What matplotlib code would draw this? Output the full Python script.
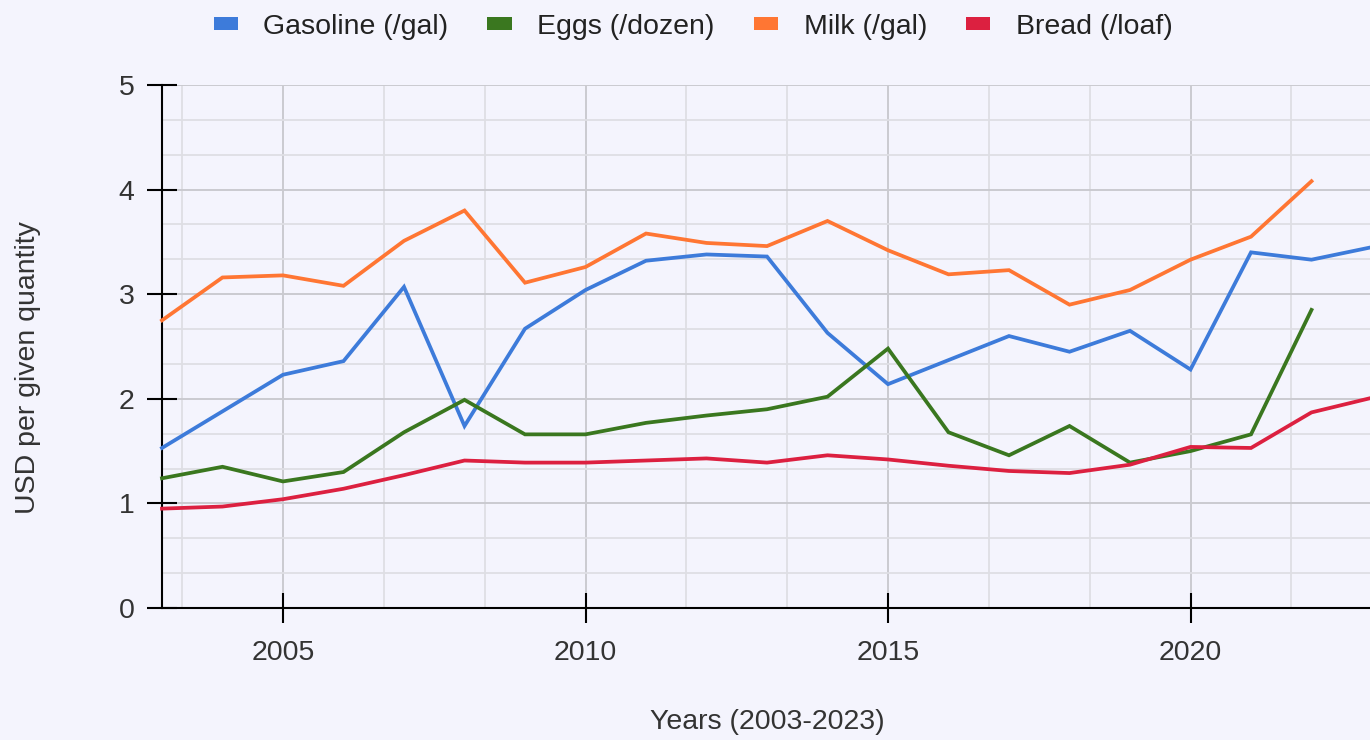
import matplotlib.pyplot as plt
from matplotlib.ticker import MultipleLocator, FixedLocator
from matplotlib.patches import Patch

# Data
years = list(range(2003, 2024))
gasoline = [1.53, 1.88, 2.23, 2.36, 3.07, 1.74, 2.67, 3.04, 3.32, 3.38, 3.36,
            2.63, 2.14, 2.37, 2.60, 2.45, 2.65, 2.28, 3.40, 3.33, 3.45]
eggs = [1.24, 1.35, 1.21, 1.30, 1.68, 1.99, 1.66, 1.66, 1.77, 1.84, 1.90,
        2.02, 2.48, 1.68, 1.46, 1.74, 1.39, 1.50, 1.66, 2.85]
milk = [2.75, 3.16, 3.18, 3.08, 3.51, 3.80, 3.11, 3.26, 3.58, 3.49, 3.46,
        3.70, 3.42, 3.19, 3.23, 2.90, 3.04, 3.33, 3.55, 4.08]
bread = [0.95, 0.97, 1.04, 1.14, 1.27, 1.41, 1.39, 1.39, 1.41, 1.43, 1.39,
         1.46, 1.42, 1.36, 1.31, 1.29, 1.37, 1.54, 1.53, 1.87, 2.01]

series_names = ["Gasoline (/gal)", "Eggs (/dozen)", "Milk (/gal)", "Bread (/loaf)"]
series_values = [gasoline, eggs, milk, bread]
series_colors = ["#3D7BDA", "#3A771F", "#FF7633", "#DC2040"]

x_major = [2005, 2010, 2015, 2020]
y_major = [0, 1, 2, 3, 4, 5]

BG = "#F4F4FD"
TEXT = "#333333"

plt.rcParams['font.family'] = ['Liberation Sans', 'DejaVu Sans']

fig = plt.figure(figsize=(13.7, 7.4), dpi=100, facecolor=BG)
ax = fig.add_axes([162 / 1370, 1 - 608 / 740, 1210 / 1370, 523 / 740])
ax.set_facecolor(BG)

for vals, color in zip(series_values, series_colors):
    ax.plot(years[:len(vals)], vals, color=color, lw=2.7, zorder=3,
            solid_joinstyle='miter', clip_on=False)

ax.set_xlim(2003, 2023)
ax.set_ylim(0, 5)

ax.xaxis.set_major_locator(FixedLocator(x_major))
ax.xaxis.set_minor_locator(MultipleLocator(5 / 3))
ax.yaxis.set_major_locator(FixedLocator(y_major))
ax.yaxis.set_minor_locator(MultipleLocator(1 / 3))

ax.grid(True, which='major', color='#CACAD0', lw=1.4, zorder=0)
ax.grid(True, which='minor', color='#DEDEE4', lw=1.3, zorder=0)
ax.set_axisbelow(True)

ax.tick_params(which='major', direction='inout', length=21.6, width=1.5,
               color='black', labelsize=20.5, labelcolor=TEXT)
ax.tick_params(axis='y', which='major', pad=9)
ax.tick_params(axis='x', which='major', pad=12)
ax.tick_params(which='minor', length=0)

for side in ['top', 'right']:
    ax.spines[side].set_visible(False)
for side in ['left', 'bottom']:
    ax.spines[side].set_color('black')
    ax.spines[side].set_linewidth(1.5)

fig.text(28 / 1370, 1 - 368 / 740, "USD per given quantity", rotation=90,
         ha='center', va='center', fontsize=20.5, color=TEXT)
fig.text(767 / 1370, 1 - 722 / 740, "Years (2003-2023)",
         ha='center', va='center', fontsize=20.5, color=TEXT)

handles = [Patch(facecolor=c, edgecolor='none') for c in series_colors]
fig.legend(handles, series_names, loc='center', ncol=4,
           bbox_to_anchor=(693 / 1370, 1 - 27 / 740), frameon=False,
           fontsize=20.5, labelcolor='#222222', handlelength=0.85,
           handleheight=0.32, handletextpad=0.9, columnspacing=1.37)

fig.savefig("out.png", dpi=100, facecolor=BG)
